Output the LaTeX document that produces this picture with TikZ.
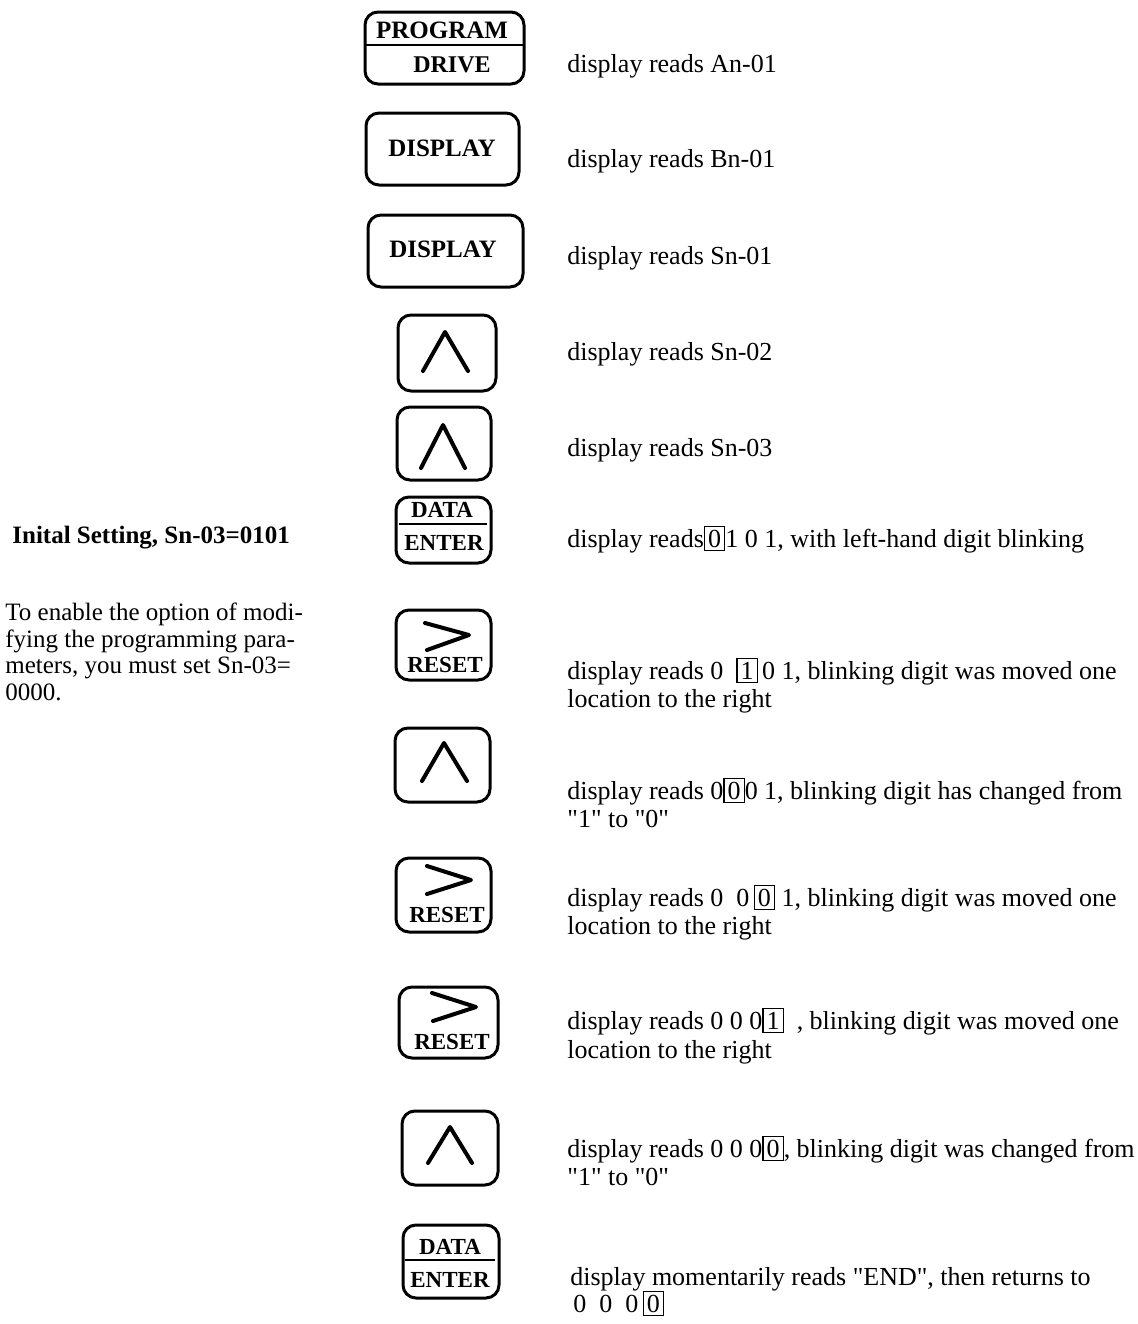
\documentclass[tikz,border=0pt]{standalone}
\usepackage{fontspec}
\setmainfont{Liberation Serif}
\newfontfamily\plainfont{Liberation Serif}
\setlength\fboxsep{1.5pt}
\setlength\fboxrule{0.6pt}
\newcommand\bx[1]{\fbox{#1}}
\tikzset{
  keyline/.style={line width=1.5pt, rounded corners=6.5pt},
  caret/.style={line width=2pt, line cap=round, line join=round},
  divline/.style={line width=1pt},
  keytxt/.style={font=\fontsize{12.5}{14}\selectfont\bfseries, inner sep=0pt},
  smalltxt/.style={font=\fontsize{11.5}{13}\selectfont\bfseries, inner sep=0pt},
  desc/.style={font={\plainfont\fontsize{13}{15}\selectfont}, anchor=base west, inner sep=0pt},
  side/.style={font={\plainfont\fontsize{12.5}{14}\selectfont}, anchor=base west, inner sep=0pt},
}
\begin{document}
\begin{tikzpicture}[x=0.5pt,y=-0.5pt]
\path[use as bounding box, fill=white] (0,0) rectangle (1138,1324);

% key 1 PROGRAM / DRIVE
\draw[keyline] (365,12) rectangle (524,84);
\draw[divline] (365,45) -- (524,45);
\node[keytxt] (prog) at (442,30) {PROGRAM};
\node[keytxt, font=\fontsize{12}{14}\selectfont\bfseries] (drive) at (452,65) {DRIVE};

% key 2 DISPLAY
\draw[keyline] (366,113) rectangle (519,185);
\node[keytxt] (disp1) at (442,148) {DISPLAY};

% key 3 DISPLAY
\draw[keyline] (368,215) rectangle (523,287);
\node[keytxt] (disp2) at (443,249) {DISPLAY};

% key 4 up
\draw[keyline] (398,315) rectangle (496,391);
\draw[caret] (423,371) -- (445,332) -- (468,371);

% key 5 up
\draw[keyline] (397,407) rectangle (491,480);
\draw[caret] (421,468) -- (443,425) -- (465,468);

% key 6 DATA/ENTER
\draw[keyline] (396,497) rectangle (491,563);
\draw[divline] (399,524) -- (487,524);
\node[smalltxt] (data1) at (442,510) {DATA};
\node[smalltxt] (enter1) at (444,543) {ENTER};

% key 7 RESET
\draw[keyline] (396,610) rectangle (491,680);
\draw[caret] (425,623) -- (469,635) -- (427,650);
\node[smalltxt] (reset1) at (445,665) {RESET};

% key 8 up
\draw[keyline] (395,728) rectangle (490,802);
\draw[caret] (422,781) -- (444,743) -- (467,781);

% key 9 RESET
\draw[keyline] (396,858) rectangle (491,932);
\draw[caret] (427,866) -- (471,880) -- (427,894);
\node[smalltxt] (reset2) at (447,915) {RESET};

% key 10 RESET
\draw[keyline] (399,987) rectangle (498,1058);
\draw[caret] (432,993) -- (476,1007) -- (433,1021);
\node[smalltxt] (reset3) at (452,1042) {RESET};

% key 11 up
\draw[keyline] (402,1111) rectangle (498,1185);
\draw[caret] (428,1163) -- (450,1127) -- (472,1163);

% key 12 DATA/ENTER
\draw[keyline] (403,1225) rectangle (499,1298);
\draw[divline] (405,1260) -- (495,1260);
\node[smalltxt] (data2) at (450,1247) {DATA};
\node[smalltxt] (enter2) at (450,1280) {ENTER};

% descriptions
\node[desc] (t1) at (567,72) {display reads An-01};
\node[desc] (t2) at (567,167) {display reads Bn-01};
\node[desc] (t3) at (567,264) {display reads Sn-01};
\node[desc] (t4) at (567,360) {display reads Sn-02};
\node[desc] (t5) at (567,456) {display reads Sn-03};
\node[desc] (t6) at (567,547) {display reads\bx{0}1 0 1, with left-hand digit blinking};
\node[desc] (t7a) at (567,679) {display reads 0\ \ \bx{1}\,0 1, blinking digit was moved one};
\node[desc] (t7b) at (567,707) {location to the right};
\node[desc] (t8a) at (567,799) {display reads 0\bx{0}0 1, blinking digit has changed from};
\node[desc] (t8b) at (567,827) {"1" to "0"};
\node[desc] (t9a) at (567,906) {display reads 0\ \ 0\,\bx{0}\ 1, blinking digit was moved one};
\node[desc] (t9b) at (567,934) {location to the right};
\node[desc] (t10a) at (567,1029) {display reads 0\ 0\ 0\bx{1}\ \ , blinking digit was moved one};
\node[desc] (t10b) at (567,1058) {location to the right};
\node[desc] (t11a) at (567,1157) {display reads 0 0 0\bx{0}, blinking digit was changed from};
\node[desc] (t11b) at (567,1185) {"1" to "0"};
\node[desc] (t12a) at (570,1285) {display momentarily reads "END", then returns to};
\node[desc] (t12b) at (573,1312) {0\ \ 0\ \ 0\,\bx{0}};

% left side
\node[side, font={\plainfont\fontsize{12.5}{14}\selectfont\bfseries}] (title) at (12,543) {Inital Setting, Sn-03=0101};
\node[side] (p1) at (5,620) {To enable the option of modi-};
\node[side] (p2) at (5,647) {fying the programming para-};
\node[side] (p3) at (5,673) {meters, you must set Sn-03=};
\node[side] (p4) at (5,700) {0000.};
\end{tikzpicture}
\end{document}
